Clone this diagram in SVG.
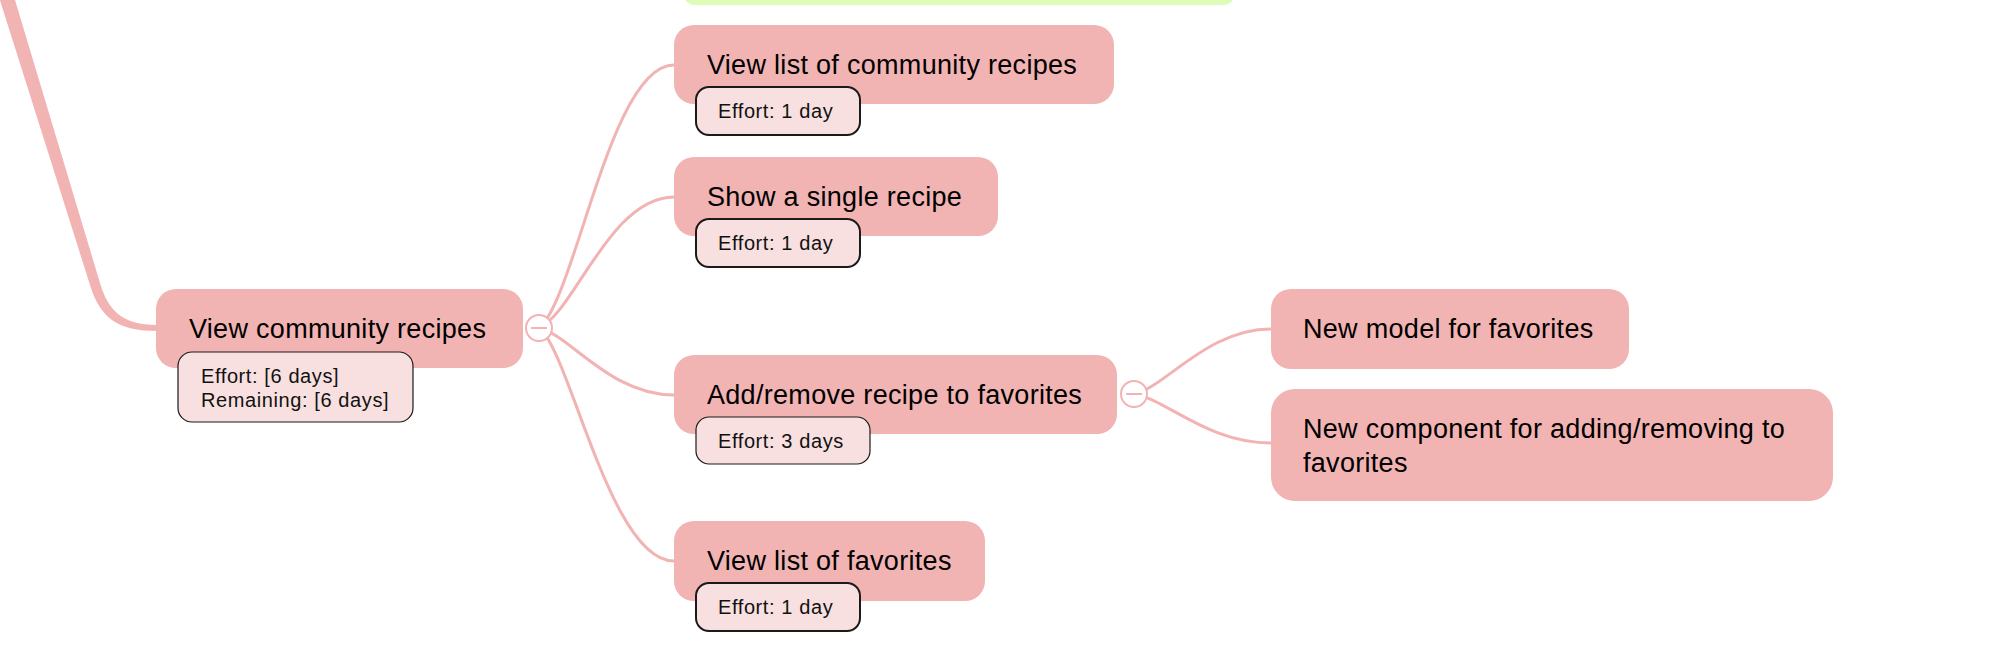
<svg xmlns="http://www.w3.org/2000/svg" width="2010" height="660" viewBox="0 0 2010 660">
<style>
.node{fill:#f2b3b3}
.t{font-family:"Liberation Sans",Arial,sans-serif;font-size:27px;letter-spacing:0.3px;fill:#000}
.note{fill:#f8e0e0;stroke:#1a1a1a}
.nt{font-family:"Liberation Sans",Arial,sans-serif;font-size:20px;letter-spacing:0.6px;fill:#111}
.conn{fill:none;stroke:#f2b3b3;stroke-width:3}
.tog{fill:#fff;stroke:#f2b3b3;stroke-width:2}
.minus{stroke:#f2b3b3;stroke-width:2}
</style>
<rect width="2010" height="660" fill="#fff"/>
<g id="connectors">
<path d="M 12 -10 L 100 283 C 108 310, 122 325, 157 325 L 157 331 C 118 331, 100 318, 90 285 L -3.2 -10 Z" fill="#f2b3b3"/>
<path class="conn" d="M 539 328 C 576 298, 610 65, 674 65"/>
<path class="conn" d="M 539 328 C 574 313, 610 197, 674 197"/>
<path class="conn" d="M 539 328 C 570 335, 610 395, 674 395"/>
<path class="conn" d="M 539 328 C 570 351, 610 561, 674 561"/>
<path class="conn" d="M 1134 394 C 1166 387, 1207 329, 1271 329"/>
<path class="conn" d="M 1134 394 C 1166 399, 1207 443, 1271 443"/>
</g>
<g id="top-node">
<rect x="683" y="-40" width="552" height="45" rx="12" fill="#ddfcb7"/>
</g>
<g id="view-community-recipes">
<rect class="node" x="156" y="289" width="367" height="79" rx="20"/>
<text class="t" x="189" y="338">View community recipes</text>
<rect class="note" x="178" y="352" width="235" height="70" rx="14" stroke-width="1.2"/>
<text class="nt" x="201" y="383">Effort: [6 days]</text>
<text class="nt" x="201" y="407">Remaining: [6 days]</text>
<circle class="tog" cx="539" cy="328" r="13"/>
<line class="minus" x1="531" y1="328" x2="547" y2="328"/>
</g>
<g id="view-list-community">
<rect class="node" x="674" y="25" width="440" height="79" rx="20"/>
<text class="t" x="707" y="74">View list of community recipes</text>
<rect class="note" x="696" y="87" width="164" height="48" rx="13" stroke-width="2"/>
<text class="nt" x="718" y="118">Effort: 1 day</text>
</g>
<g id="show-single-recipe">
<rect class="node" x="674" y="157" width="324" height="79" rx="20"/>
<text class="t" x="707" y="206">Show a single recipe</text>
<rect class="note" x="696" y="219" width="164" height="48" rx="13" stroke-width="2"/>
<text class="nt" x="718" y="250">Effort: 1 day</text>
</g>
<g id="add-remove-favorites">
<rect class="node" x="674" y="355" width="443" height="79" rx="20"/>
<text class="t" x="707" y="404">Add/remove recipe to favorites</text>
<rect class="note" x="696" y="417" width="174" height="47" rx="13" stroke-width="1.2"/>
<text class="nt" x="718" y="448">Effort: 3 days</text>
<circle class="tog" cx="1134" cy="394" r="13"/>
<line class="minus" x1="1126" y1="394" x2="1142" y2="394"/>
</g>
<g id="view-list-favorites">
<rect class="node" x="674" y="521" width="311" height="80" rx="20"/>
<text class="t" x="707" y="570">View list of favorites</text>
<rect class="note" x="696" y="583" width="164" height="48" rx="13" stroke-width="2"/>
<text class="nt" x="718" y="614">Effort: 1 day</text>
</g>
<g id="new-model-favorites">
<rect class="node" x="1271" y="289" width="358" height="80" rx="20"/>
<text class="t" x="1303" y="338">New model for favorites</text>
</g>
<g id="new-component-favorites">
<rect class="node" x="1271" y="389" width="562" height="112" rx="24"/>
<text class="t" x="1303" y="438">New component for adding/removing to</text>
<text class="t" x="1303" y="472">favorites</text>
</g>
</svg>
